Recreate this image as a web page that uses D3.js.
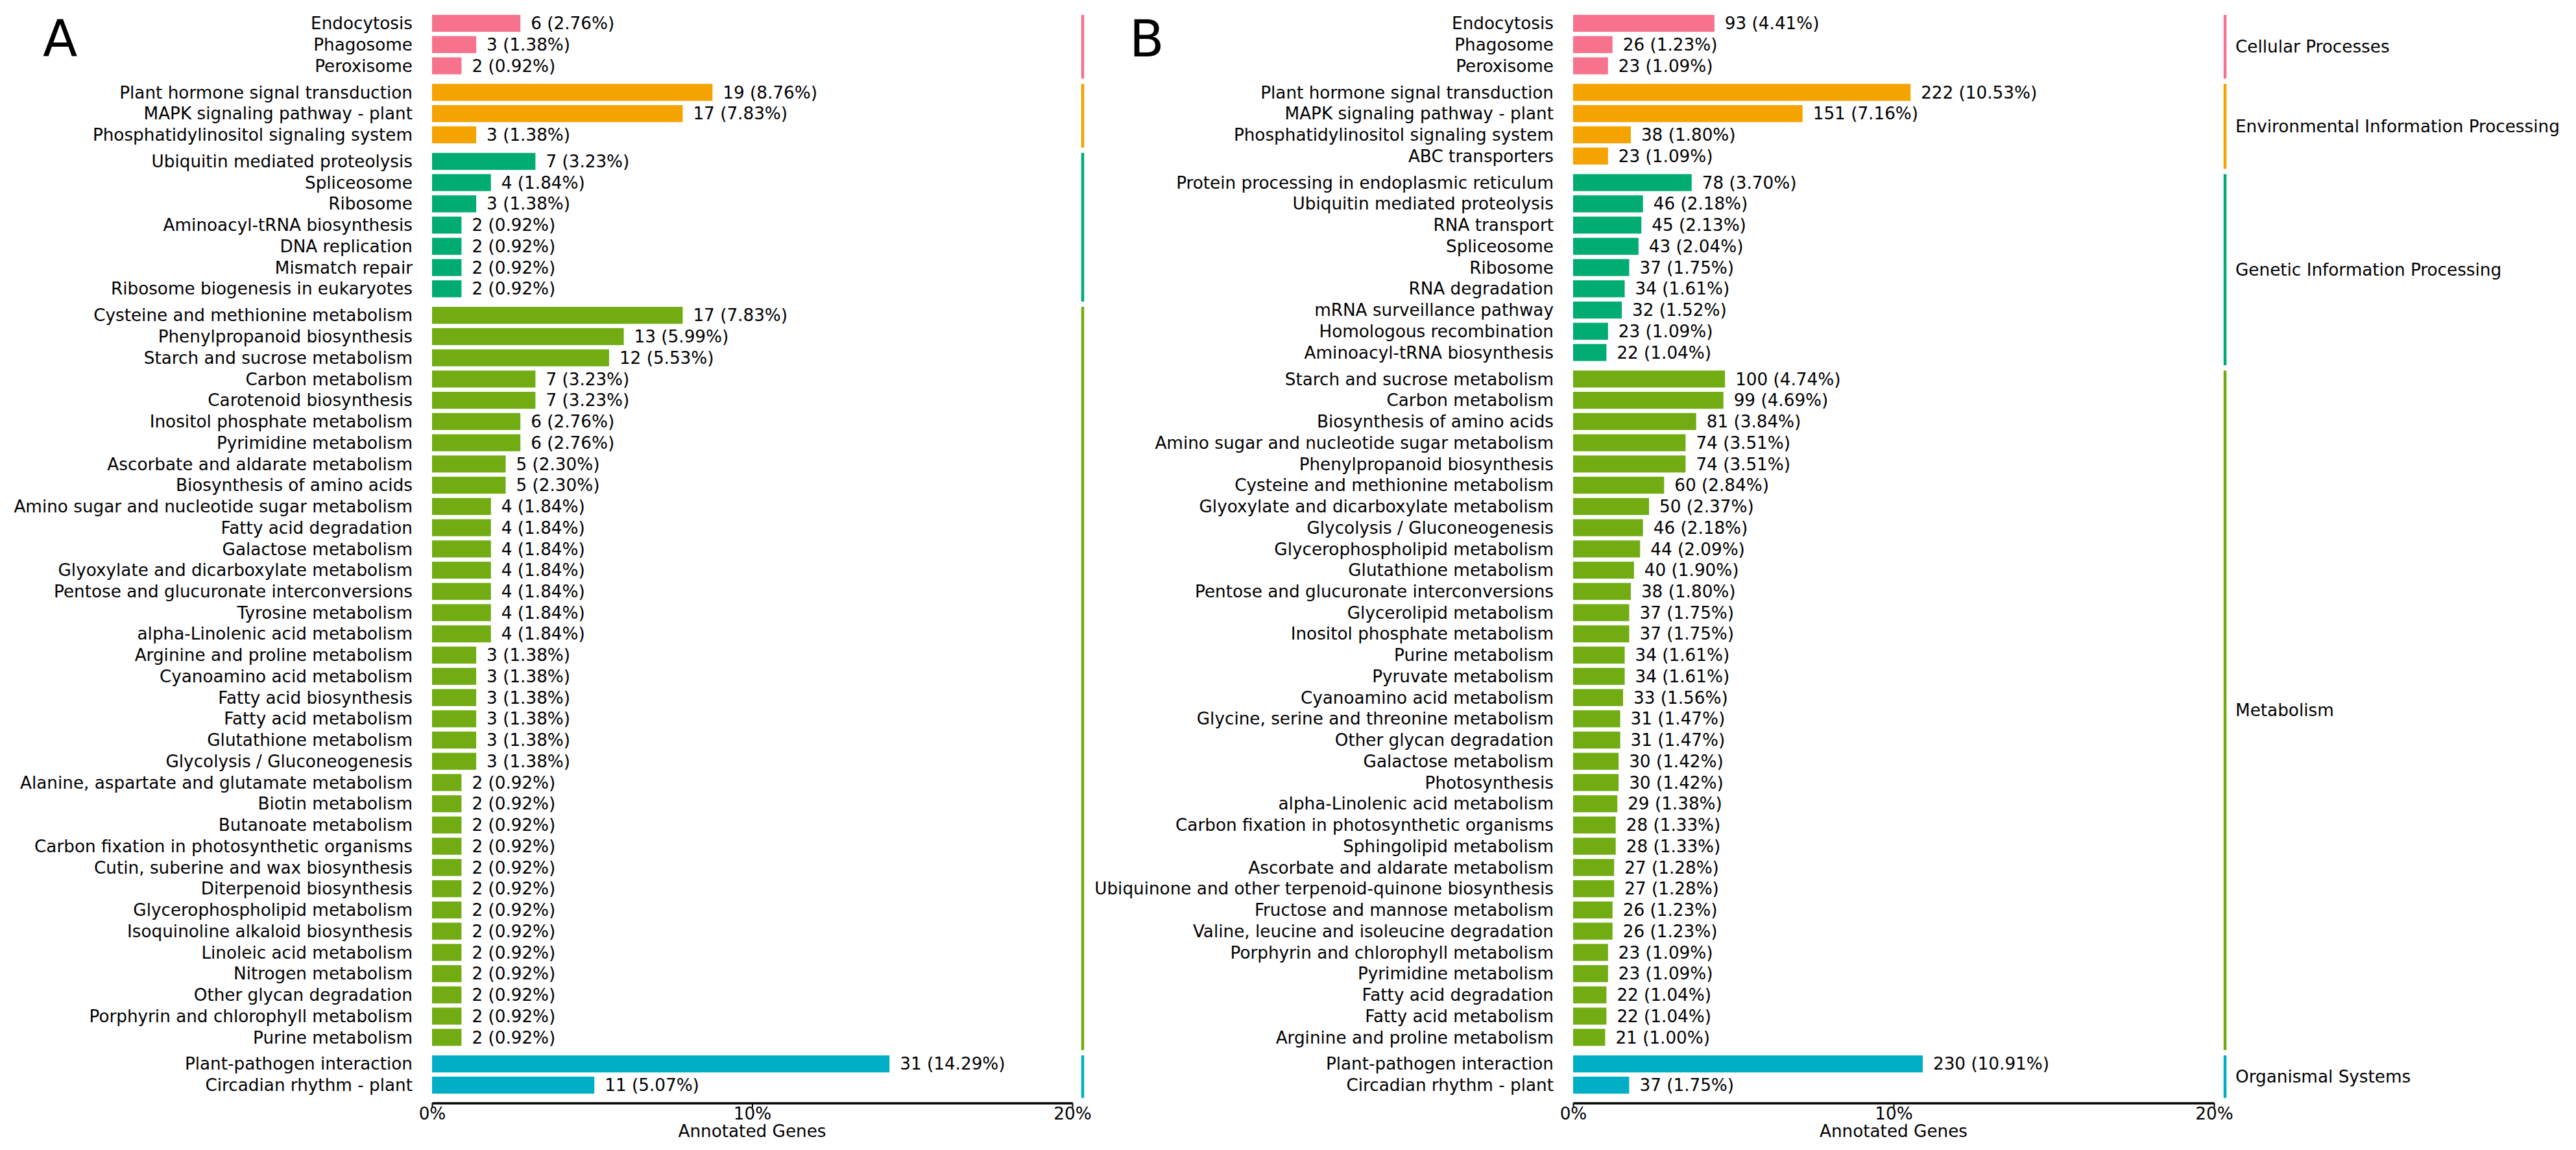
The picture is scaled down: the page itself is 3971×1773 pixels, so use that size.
<!DOCTYPE html>
<html>
<head>
<meta charset="utf-8">
<script src="https://cdn.jsdelivr.net/npm/d3@7"></script>
<style>
  body { margin: 0; background: #fff; }
  text { font-family: "DejaVu Sans", sans-serif; fill: #000; }
</style>
</head>
<body>
<svg id="chart"></svg>
<script>
// KEGG classes, shared by both panels
const groupNames = ['Cellular Processes', 'Environmental Information Processing',
  'Genetic Information Processing', 'Metabolism', 'Organismal Systems']
const groupColors = ['#F7738D', '#F5A300', '#00AC72', '#70AC12', '#00AFC6']

// panel A
const pathwaysA = [
  'Endocytosis', 'Phagosome', 'Peroxisome',
  'Plant hormone signal transduction', 'MAPK signaling pathway - plant', 'Phosphatidylinositol signaling system',
  'Ubiquitin mediated proteolysis', 'Spliceosome', 'Ribosome', 'Aminoacyl-tRNA biosynthesis',
  'DNA replication', 'Mismatch repair', 'Ribosome biogenesis in eukaryotes',
  'Cysteine and methionine metabolism', 'Phenylpropanoid biosynthesis', 'Starch and sucrose metabolism',
  'Carbon metabolism', 'Carotenoid biosynthesis', 'Inositol phosphate metabolism', 'Pyrimidine metabolism',
  'Ascorbate and aldarate metabolism', 'Biosynthesis of amino acids', 'Amino sugar and nucleotide sugar metabolism',
  'Fatty acid degradation', 'Galactose metabolism', 'Glyoxylate and dicarboxylate metabolism',
  'Pentose and glucuronate interconversions', 'Tyrosine metabolism', 'alpha-Linolenic acid metabolism',
  'Arginine and proline metabolism', 'Cyanoamino acid metabolism', 'Fatty acid biosynthesis',
  'Fatty acid metabolism', 'Glutathione metabolism', 'Glycolysis / Gluconeogenesis',
  'Alanine, aspartate and glutamate metabolism', 'Biotin metabolism', 'Butanoate metabolism',
  'Carbon fixation in photosynthetic organisms', 'Cutin, suberine and wax biosynthesis', 'Diterpenoid biosynthesis',
  'Glycerophospholipid metabolism', 'Isoquinoline alkaloid biosynthesis', 'Linoleic acid metabolism',
  'Nitrogen metabolism', 'Other glycan degradation', 'Porphyrin and chlorophyll metabolism', 'Purine metabolism',
  'Plant-pathogen interaction', 'Circadian rhythm - plant'
]
const groupA = [0,0,0, 1,1,1, 2,2,2,2,2,2,2,
  3,3,3,3,3,3,3,3,3,3,3,3,3,3,3,3,3,3,3,3,3,3,3,3,3,3,3,3,3,3,3,3,3,3,3,
  4,4]
const countsA = [6,3,2, 19,17,3, 7,4,3,2,2,2,2,
  17,13,12,7,7,6,6,5,5,4,4,4,4,4,4,4,3,3,3,3,3,3,2,2,2,2,2,2,2,2,2,2,2,2,2,
  31,11]
const pctsA = [2.76,1.38,0.92, 8.76,7.83,1.38, 3.23,1.84,1.38,0.92,0.92,0.92,0.92,
  7.83,5.99,5.53,3.23,3.23,2.76,2.76,2.30,2.30,1.84,1.84,1.84,1.84,1.84,1.84,1.84,
  1.38,1.38,1.38,1.38,1.38,1.38,0.92,0.92,0.92,0.92,0.92,0.92,0.92,0.92,0.92,0.92,0.92,0.92,0.92,
  14.29,5.07]

// panel B
const pathwaysB = [
  'Endocytosis', 'Phagosome', 'Peroxisome',
  'Plant hormone signal transduction', 'MAPK signaling pathway - plant', 'Phosphatidylinositol signaling system',
  'ABC transporters',
  'Protein processing in endoplasmic reticulum', 'Ubiquitin mediated proteolysis', 'RNA transport',
  'Spliceosome', 'Ribosome', 'RNA degradation', 'mRNA surveillance pathway', 'Homologous recombination',
  'Aminoacyl-tRNA biosynthesis',
  'Starch and sucrose metabolism', 'Carbon metabolism', 'Biosynthesis of amino acids',
  'Amino sugar and nucleotide sugar metabolism', 'Phenylpropanoid biosynthesis', 'Cysteine and methionine metabolism',
  'Glyoxylate and dicarboxylate metabolism', 'Glycolysis / Gluconeogenesis', 'Glycerophospholipid metabolism',
  'Glutathione metabolism', 'Pentose and glucuronate interconversions', 'Glycerolipid metabolism',
  'Inositol phosphate metabolism', 'Purine metabolism', 'Pyruvate metabolism', 'Cyanoamino acid metabolism',
  'Glycine, serine and threonine metabolism', 'Other glycan degradation', 'Galactose metabolism', 'Photosynthesis',
  'alpha-Linolenic acid metabolism', 'Carbon fixation in photosynthetic organisms', 'Sphingolipid metabolism',
  'Ascorbate and aldarate metabolism', 'Ubiquinone and other terpenoid-quinone biosynthesis',
  'Fructose and mannose metabolism', 'Valine, leucine and isoleucine degradation',
  'Porphyrin and chlorophyll metabolism', 'Pyrimidine metabolism', 'Fatty acid degradation',
  'Fatty acid metabolism', 'Arginine and proline metabolism',
  'Plant-pathogen interaction', 'Circadian rhythm - plant'
]
const groupB = [0,0,0, 1,1,1,1, 2,2,2,2,2,2,2,2,2,
  3,3,3,3,3,3,3,3,3,3,3,3,3,3,3,3,3,3,3,3,3,3,3,3,3,3,3,3,3,3,3,3,
  4,4]
const countsB = [93,26,23, 222,151,38,23, 78,46,45,43,37,34,32,23,22,
  100,99,81,74,74,60,50,46,44,40,38,37,37,34,34,33,31,31,30,30,29,28,28,27,27,26,26,23,23,22,22,21,
  230,37]
const pctsB = [4.41,1.23,1.09, 10.53,7.16,1.80,1.09, 3.70,2.18,2.13,2.04,1.75,1.61,1.52,1.09,1.04,
  4.74,4.69,3.84,3.51,3.51,2.84,2.37,2.18,2.09,1.90,1.80,1.75,1.75,1.61,1.61,1.56,1.47,1.47,1.42,1.42,
  1.38,1.33,1.33,1.28,1.28,1.23,1.23,1.09,1.09,1.04,1.04,1.00,
  10.91,1.75]

const xTicks = [0, 10, 20]

let Width = 3971
let Height = 1773
const fontPx = '26.25px'
let svg = d3.select('#chart').attr('width', Width).attr('height', Height)
svg.append('rect').attr('width', Width).attr('height', Height).attr('fill', '#fff')

// rows sit one unit apart, a quarter unit of extra space between classes
const y = d3.scaleLinear().domain([0, 50]).range([36, 1673])
const barH = y(0.8) - y(0)
const axisY = 1700.5

function rowUnits(groups) {
  let u = 0
  return groups.map((g, i) => {
    if (i > 0) u += (g !== groups[i - 1]) ? 1.25 : 1
    return u
  })
}

function drawPanel(p) {
  const x = d3.scaleLinear().domain([0, 20]).range([p.x0, p.x1])
  const units = rowUnits(p.groups)
  const rows = p.names.map((name, i) => ({
    name, group: p.groups[i], count: p.counts[i], pct: p.pcts[i], u: units[i]
  }))
  const g = svg.append('g')

  g.selectAll('rect.bar').data(rows).enter().append('rect')
    .attr('class', 'bar')
    .attr('x', x(0))
    .attr('y', d => y(d.u) - barH / 2)
    .attr('width', d => x(d.pct) - x(0))
    .attr('height', barH)
    .attr('fill', d => groupColors[d.group])

  g.selectAll('text.name').data(rows).enter().append('text')
    .attr('class', 'name')
    .attr('x', x(0) - 30)
    .attr('y', d => y(d.u))
    .attr('dy', '0.35em')
    .attr('text-anchor', 'end')
    .style('font-size', fontPx)
    .text(d => d.name)

  g.selectAll('text.val').data(rows).enter().append('text')
    .attr('class', 'val')
    .attr('x', d => x(d.pct) + 16)
    .attr('y', d => y(d.u))
    .attr('dy', '0.35em')
    .style('font-size', fontPx)
    .text(d => d.count + ' (' + d.pct.toFixed(2) + '%)')

  // class brackets on the right
  const spans = d3.groups(rows, d => d.group).map(([grp, rs]) => ({
    grp, top: d3.min(rs, d => d.u) - 0.4, bottom: d3.max(rs, d => d.u) + 0.6
  }))
  g.selectAll('line.cls').data(spans).enter().append('line')
    .attr('class', 'cls')
    .attr('x1', p.lineX).attr('x2', p.lineX)
    .attr('y1', d => y(d.top)).attr('y2', d => y(d.bottom))
    .attr('stroke', d => groupColors[d.grp])
    .attr('stroke-width', 4.5)
  if (p.classLabels) {
    g.selectAll('text.cls').data(spans).enter().append('text')
      .attr('class', 'cls')
      .attr('x', p.lineX + 16)
      .attr('y', d => (y(d.top) + y(d.bottom)) / 2)
      .attr('dy', '0.35em')
      .style('font-size', fontPx)
      .text(d => groupNames[d.grp])
  }

  // x axis
  const axis = g.append('g').attr('transform', 'translate(0,' + axisY + ')')
    .call(d3.axisBottom(x).tickValues(xTicks).tickFormat(d => d + '%')
      .tickSizeInner(7).tickSizeOuter(0).tickPadding(0))
  axis.select('.domain').attr('stroke', '#000').attr('stroke-width', 3.6)
  axis.selectAll('.tick line').attr('stroke', '#000').attr('stroke-width', 2)
  axis.selectAll('.tick text').style('font-size', fontPx)
    .style('font-family', '"DejaVu Sans", sans-serif').attr('fill', '#000')

  g.append('text')
    .attr('x', (p.x0 + p.x1) / 2)
    .attr('y', 1753)
    .attr('text-anchor', 'middle')
    .style('font-size', fontPx)
    .text('Annotated Genes')

  g.append('text')
    .attr('x', p.letterX)
    .attr('y', 87)
    .style('font-size', '78px')
    .text(p.letter)
}

drawPanel({ names: pathwaysA, groups: groupA, counts: countsA, pcts: pctsA,
  x0: 666, x1: 1653, lineX: 1669, classLabels: false, letter: 'A', letterX: 66 })
drawPanel({ names: pathwaysB, groups: groupB, counts: countsB, pcts: pctsB,
  x0: 2425, x1: 3413, lineX: 3430, classLabels: true, letter: 'B', letterX: 1741 })
</script>
</body>
</html>
